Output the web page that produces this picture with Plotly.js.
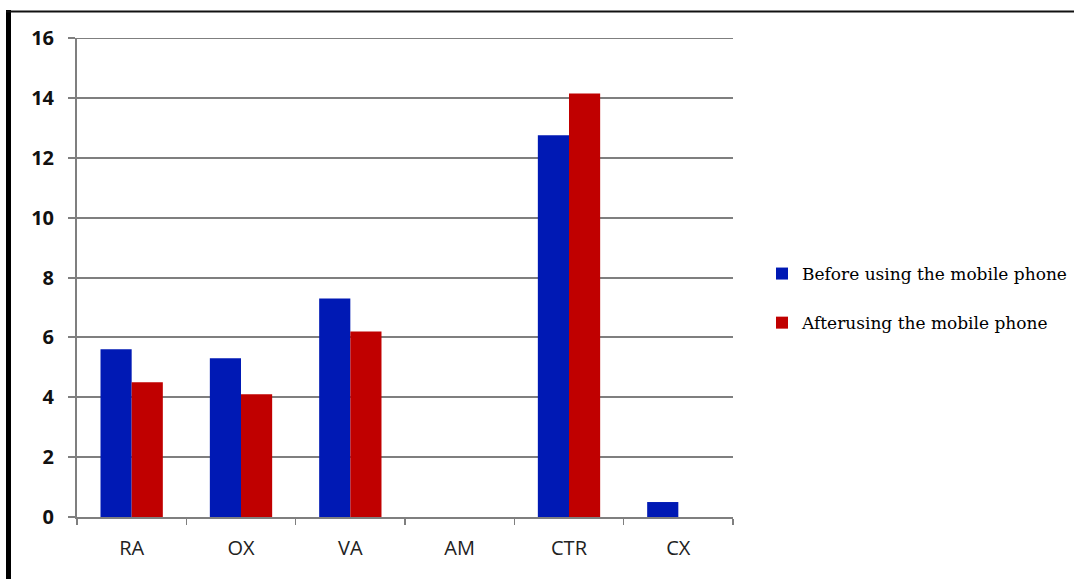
<!DOCTYPE html>
<html>
<head>
<meta charset="utf-8">
<script src="https://cdn.plot.ly/plotly-3.0.1.min.js"></script>
<style>
  html, body { margin: 0; padding: 0; background: #fff; }
  #chart { width: 1074px; height: 579px; }
</style>
</head>
<body>
<div id="chart"></div>
<script>
// Parameters measured before and after mobile phone use
const categories = ['RA', 'OX', 'VA', 'AM', 'CTR', 'CX'];
const beforeValues = [5.6, 5.3, 7.3, 0, 12.75, 0.5];
const afterValues = [4.5, 4.1, 6.2, 0, 14.15, 0];
const seriesNames = ['Before using the mobile phone', 'Afterusing the mobile phone'];
const yTicks = [0, 2, 4, 6, 8, 10, 12, 14, 16];

const W = 1074, H = 579;
const plotLeft = 77, plotRight = 733, plotTop = 38, plotBottom = 517;
const px2x = p => (p - plotLeft) / (plotRight - plotLeft);
const px2y = p => (plotBottom - p) / (plotBottom - plotTop);
const yMax = yTicks[yTicks.length - 1];

const traces = [
  {
    type: 'bar', name: seriesNames[0], x: categories, y: beforeValues,
    legendgroup: 'a',
    marker: { color: '#0019B4', line: { width: 0 } },
    hoverinfo: 'x+y'
  },
  {
    type: 'bar', name: seriesNames[1], x: categories, y: afterValues,
    legendgroup: 'b',
    marker: { color: '#C00000', line: { width: 0 } },
    hoverinfo: 'x+y'
  }
];

const layout = {
  width: W, height: H,
  margin: { l: plotLeft, r: W - plotRight, t: plotTop, b: H - plotBottom, pad: 0, autoexpand: false },
  paper_bgcolor: '#ffffff', plot_bgcolor: '#ffffff',
  barmode: 'group', bargap: 0.43, bargroupgap: 0,
  showlegend: true,
  legend: {
    x: px2x(762), y: px2y(256), xanchor: 'left', yanchor: 'top',
    traceorder: 'grouped', tracegroupgap: 24,
    font: { family: 'DejaVu Serif', size: 17, color: '#000' },
    bgcolor: 'rgba(0,0,0,0)', itemwidth: 30
  },
  xaxis: {
    type: 'category', range: [-0.5, 5.5], fixedrange: true,
    showline: true, linecolor: '#7f7f7f', linewidth: 2,
    ticks: 'outside', tickson: 'boundaries', ticklen: 6, tickwidth: 1.5, tickcolor: '#7f7f7f',
    showgrid: false, zeroline: false,
    ticklabelstandoff: 12,
    tickfont: { family: 'Open Sans', size: 20, color: '#222' }
  },
  yaxis: {
    range: [0, yMax], tickvals: yTicks, fixedrange: true,
    showline: true, linecolor: '#7f7f7f', linewidth: 2,
    ticks: 'outside', ticklen: 7, tickwidth: 2, tickcolor: '#7f7f7f',
    showgrid: true, gridcolor: '#7f7f7f', gridwidth: 2, zeroline: false,
    ticklabelstandoff: 10,
    tickfont: { family: 'Open Sans', size: 20, color: '#111', weight: 'bold' }
  },
  shapes: [
    // top gridline at the end of the value range
    { type: 'line', xref: 'paper', yref: 'y', layer: 'below',
      x0: 0, x1: 1, y0: yMax, y1: yMax,
      line: { color: '#7f7f7f', width: 2 } },
    // outer frame: heavy left edge and thin top edge
    { type: 'line', xref: 'paper', yref: 'paper', layer: 'above',
      x0: px2x(8.5), x1: px2x(8.5), y0: px2y(10), y1: px2y(H + 2),
      line: { color: '#000', width: 5 } },
    { type: 'line', xref: 'paper', yref: 'paper', layer: 'above',
      x0: px2x(6), x1: px2x(W), y0: px2y(11.5), y1: px2y(11.5),
      line: { color: '#111', width: 2 } }
  ]
};

Plotly.newPlot('chart', traces, layout, { displayModeBar: false, staticPlot: true });
</script>
</body>
</html>
